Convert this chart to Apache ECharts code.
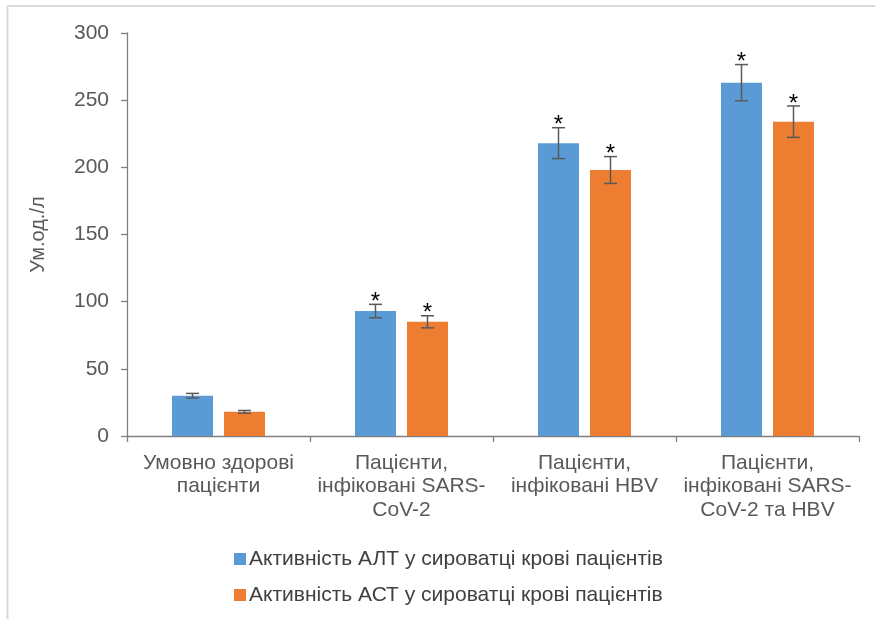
<!DOCTYPE html>
<html>
<head>
<meta charset="utf-8">
<script src="https://cdn.jsdelivr.net/npm/echarts@6/dist/echarts.min.js"></script>
<style>
  html, body { margin: 0; padding: 0; background: #ffffff; }
  #chart { width: 875px; height: 619px; }
</style>
</head>
<body>
<div id="chart"></div>
<script>
// Groups of patients along the category axis
const categories = [
  'Умовно здорові\nпацієнти',
  'Пацієнти,\nінфіковані SARS-\nCoV-2',
  'Пацієнти,\nінфіковані HBV',
  'Пацієнти,\nінфіковані SARS-\nCoV-2 та HBV'
];
const seriesNames = [
  'Активність АЛТ у сироватці крові пацієнтів',
  'Активність АСТ у сироватці крові пацієнтів'
];
// Mean enzyme activity, U/l
const altValues = [30, 93, 218, 263];
const astValues = [18, 85, 198, 234];
// Error bar half-widths
const altErrors = [1.7, 5, 11.5, 13.5];
const astErrors = [1, 4.5, 10, 11.7];
// Significance markers above the error bars
const altMarks = ['', '*', '*', '*'];
const astMarks = ['', '*', '*', '*'];
// Y axis ticks
const yMin = 0, yMax = 300, yStep = 50;

const BLUE = '#5B9BD5';
const ORANGE = '#ED7D31';
const AXIS = '#7f7f7f';
const TEXT = '#595959';
const FONT = '"Liberation Sans", Arial, sans-serif';
const FONT_SIZE = 21;

const BAR_W = 41;
const BAR_GAP = 11;
const OFFSET = (BAR_W + BAR_GAP) / 2;

function errorSeries(values, errors, marks, shift) {
  const data = values.map((v, i) => [i, v, errors[i], marks[i]]);
  return {
    type: 'custom',
    silent: true,
    z: 5,
    data: data,
    encode: { x: 0, y: 1 },
    renderItem: function (params, api) {
      const idx = api.value(0);
      const val = api.value(1);
      const err = api.value(2);
      const mark = data[params.dataIndex][3];
      const hi = api.coord([idx, val + err]);
      const lo = api.coord([idx, val - err]);
      const x = hi[0] + shift;
      const cap = 6.5;
      const style = { stroke: '#595959', lineWidth: 1.5 };
      const children = [
        { type: 'line', shape: { x1: x, y1: hi[1], x2: x, y2: lo[1] }, style: style },
        { type: 'line', shape: { x1: x - cap, y1: hi[1], x2: x + cap, y2: hi[1] }, style: style },
        { type: 'line', shape: { x1: x - cap, y1: lo[1], x2: x + cap, y2: lo[1] }, style: style }
      ];
      if (mark) {
        children.push({
          type: 'text',
          style: {
            text: mark, x: x, y: hi[1] + 10,
            align: 'center', verticalAlign: 'bottom',
            fill: '#000000', font: '24px ' + FONT
          }
        });
      }
      return { type: 'group', children: children };
    }
  };
}

const chart = echarts.init(document.getElementById('chart'), null, { renderer: 'canvas' });
chart.setOption({
  animation: false,
  backgroundColor: '#ffffff',
  textStyle: { fontFamily: FONT },
  graphic: [
    { type: 'line', shape: { x1: 7.5, y1: 6, x2: 7.5, y2: 619 }, style: { stroke: '#d9d9d9', lineWidth: 2 } },
    { type: 'line', shape: { x1: 7.5, y1: 6, x2: 875, y2: 6 }, style: { stroke: '#d9d9d9', lineWidth: 2 } }
  ],
  grid: { left: 127, right: 16, top: 33, bottom: 183, containLabel: false },
  legend: {
    orient: 'vertical',
    left: 229,
    top: 543,
    itemWidth: 12,
    itemHeight: 12,
    itemGap: 14,
    icon: 'rect',
    data: seriesNames,
    textStyle: { fontSize: FONT_SIZE, color: '#404040', fontFamily: FONT, lineHeight: 22, padding: [0, 0, 0, -2] }
  },
  xAxis: {
    type: 'category',
    data: categories,
    axisLine: { show: true, lineStyle: { color: AXIS, width: 1.3 } },
    axisTick: { show: true, alignWithLabel: false, length: 6, lineStyle: { color: AXIS, width: 1.3 } },
    axisLabel: {
      interval: 0, margin: 15, fontSize: FONT_SIZE, lineHeight: 23.5,
      color: TEXT, fontFamily: FONT, align: 'center'
    },
    splitLine: { show: false }
  },
  yAxis: {
    type: 'value',
    min: yMin, max: yMax, interval: yStep,
    name: 'Ум.од./л',
    nameLocation: 'middle',
    nameGap: 79,
    nameRotate: 90,
    nameTextStyle: { fontSize: 20, color: TEXT, fontFamily: FONT },
    axisLine: { show: true, lineStyle: { color: AXIS, width: 1.3 } },
    axisTick: { show: true, length: 6, lineStyle: { color: AXIS, width: 1.3 } },
    axisLabel: { fontSize: FONT_SIZE, color: TEXT, margin: 18, fontFamily: FONT },
    splitLine: { show: false }
  },
  series: [
    {
      name: seriesNames[0], type: 'bar', data: altValues,
      barWidth: BAR_W, barGap: (BAR_GAP / BAR_W * 100).toFixed(1) + '%',
      itemStyle: { color: BLUE }
    },
    {
      name: seriesNames[1], type: 'bar', data: astValues,
      barWidth: BAR_W,
      itemStyle: { color: ORANGE }
    },
    errorSeries(altValues, altErrors, altMarks, -OFFSET),
    errorSeries(astValues, astErrors, astMarks, OFFSET)
  ]
});
</script>
</body>
</html>
